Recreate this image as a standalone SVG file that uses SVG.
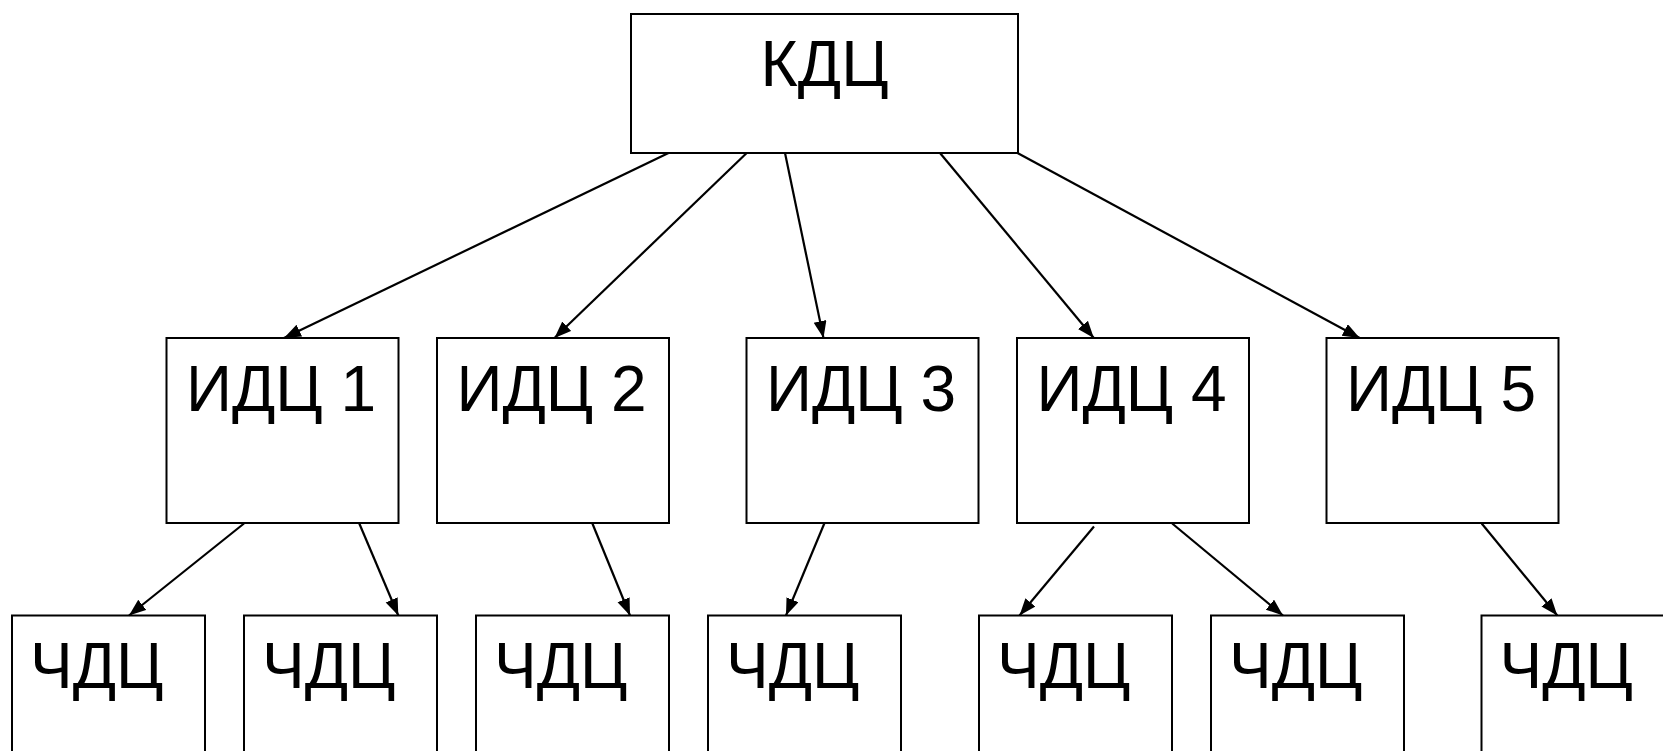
<svg xmlns="http://www.w3.org/2000/svg" width="1663" height="751" viewBox="0 0 1663 751">
<defs>
<style>
.box{fill:#fff;stroke:#000;stroke-width:2}
.lbl{font-family:"Liberation Sans",Arial,sans-serif;font-size:64px;fill:#000}
.con line{stroke:#000;stroke-width:2.2;marker-end:url(#ah)}
</style>
<marker id="ah" markerUnits="userSpaceOnUse" markerWidth="18" markerHeight="14" refX="17" refY="6.5" orient="auto">
<path d="M0,0 L17,6.5 L0,13 Z" fill="#000"/>
</marker>
</defs>
<rect width="1663" height="751" fill="#fff"/>
<g id="kdc"><rect class="box" x="631" y="14" width="387" height="139"/><text class="lbl" x="824.5" y="86" text-anchor="middle">КДЦ</text></g>
<g id="idc1"><rect class="box" x="166.5" y="338" width="232" height="185"/><text class="lbl" x="186" y="410.5">ИДЦ 1</text></g>
<g id="idc2"><rect class="box" x="437" y="338" width="232" height="185"/><text class="lbl" x="456.5" y="410.5">ИДЦ 2</text></g>
<g id="idc3"><rect class="box" x="746.5" y="338" width="232" height="185"/><text class="lbl" x="766" y="410.5">ИДЦ 3</text></g>
<g id="idc4"><rect class="box" x="1017" y="338" width="232" height="185"/><text class="lbl" x="1036.5" y="410.5">ИДЦ 4</text></g>
<g id="idc5"><rect class="box" x="1326.5" y="338" width="232" height="185"/><text class="lbl" x="1346" y="410.5">ИДЦ 5</text></g>
<g id="cdc1"><rect class="box" x="12" y="615.5" width="193" height="150"/><text class="lbl" x="30" y="688">ЧДЦ</text></g>
<g id="cdc2"><rect class="box" x="244" y="615.5" width="193" height="150"/><text class="lbl" x="262" y="688">ЧДЦ</text></g>
<g id="cdc3"><rect class="box" x="476" y="615.5" width="193" height="150"/><text class="lbl" x="494" y="688">ЧДЦ</text></g>
<g id="cdc4"><rect class="box" x="708" y="615.5" width="193" height="150"/><text class="lbl" x="726" y="688">ЧДЦ</text></g>
<g id="cdc5"><rect class="box" x="979" y="615.5" width="193" height="150"/><text class="lbl" x="997" y="688">ЧДЦ</text></g>
<g id="cdc6"><rect class="box" x="1211" y="615.5" width="193" height="150"/><text class="lbl" x="1229" y="688">ЧДЦ</text></g>
<g id="cdc7"><rect class="box" x="1481.5" y="615.5" width="193" height="150"/><text class="lbl" x="1499.5" y="688">ЧДЦ</text></g>
<g id="connectors" class="con">
<line x1="668.5" y1="153" x2="284" y2="338"/>
<line x1="746.7" y1="153" x2="554.5" y2="338"/>
<line x1="785" y1="153" x2="823.5" y2="338"/>
<line x1="940" y1="153" x2="1093.8" y2="338"/>
<line x1="1017.5" y1="153" x2="1359.7" y2="338"/>
<line x1="244" y1="523.5" x2="129" y2="615.5"/>
<line x1="359.3" y1="523.5" x2="398.3" y2="615.5"/>
<line x1="592.4" y1="523.5" x2="630" y2="615.5"/>
<line x1="824.3" y1="523.5" x2="786" y2="615.5"/>
<line x1="1094" y1="526.5" x2="1019.5" y2="615.5"/>
<line x1="1172.2" y1="523.5" x2="1283" y2="615.5"/>
<line x1="1481.7" y1="523.5" x2="1557.3" y2="615.5"/>
</g>
</svg>
